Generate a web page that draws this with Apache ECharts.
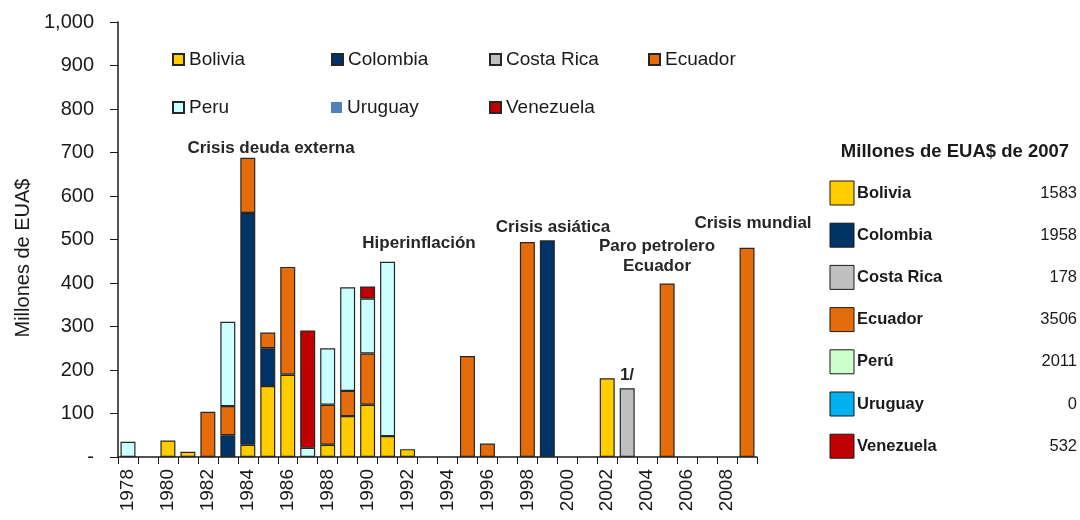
<!DOCTYPE html>
<html style="height: 100%">
<head>
<meta charset="utf-8">
<style type="text/css">
  body, html { width: 100%; height: 100%; margin: 0; overflow: hidden; background: #fff; }
  #display { width: 1080px; height: 520px; }
</style>
</head>
<body>
<div id="display"></div>
<script type="text/javascript" src="https://cdn.jsdelivr.net/npm/echarts@6/dist/echarts.min.js"></script>
<script type="text/javascript">
// years 1978 .. 2009
var years = ['1978','1979','1980','1981','1982','1983','1984','1985','1986','1987','1988','1989','1990','1991','1992','1993',
             '1994','1995','1996','1997','1998','1999','2000','2001','2002','2003','2004','2005','2006','2007','2008','2009'];

//                 78    79    80    81    82    83    84    85    86    87    88    89    90    91    92    93    94    95    96    97    98    99    00    01    02    03    04    05    06    07    08    09
var bolivia   = [null, null,   38,   12, null, null,   28,  163,  189, null,   28,   94,  120,   48,   18, null, null, null, null, null, null, null, null, null,  181, null, null, null, null, null, null, null];
var colombia  = [null, null, null, null, null,   50,  533,   87, null, null, null, null, null, null, null, null, null, null, null, null, null,  498, null, null, null, null, null, null, null, null, null, null];
var costaRica = [null, null, null, null, null, null, null, null, null, null, null, null, null, null, null, null, null, null, null, null, null, null, null, null, null,  158, null, null, null, null, null, null];
var ecuador   = [null, null, null, null,  104,   67,  127,   36,  248, null,   92,   58,  118, null, null, null, null,  232,   31, null,  494, null, null, null, null, null, null,  399, null, null, null,  481];
var peru      = [  35, null, null, null, null,  194, null, null, null,   21,  130,  238,  126,  401, null, null, null, null, null, null, null, null, null, null, null, null, null, null, null, null, null, null];
var uruguay   = [null, null, null, null, null, null, null, null, null, null, null, null, null, null, null, null, null, null, null, null, null, null, null, null, null, null, null, null, null, null, null, null];
var venezuela = [null, null, null, null, null, null, null, null, null,  270, null, null,   28, null, null, null, null, null, null, null, null, null, null, null, null, null, null, null, null, null, null, null];

var seriesNames  = ['Bolivia', 'Colombia', 'Costa Rica', 'Ecuador', 'Peru', 'Uruguay', 'Venezuela'];
var seriesColors = ['#FFCC00', '#003366', '#C0C0C0', '#E46C0A', '#CCFFFF', '#4F81BD', '#C00000'];
var seriesData   = [bolivia, colombia, costaRica, ecuador, peru, uruguay, venezuela];

// side table, millones de EUA$ de 2007
var tableNames  = ['Bolivia', 'Colombia', 'Costa Rica', 'Ecuador', 'Perú', 'Uruguay', 'Venezuela'];
var tableValues = ['1583', '1958', '178', '3506', '2011', '0', '532'];
var tableColors = ['#FFCC00', '#003366', '#C0C0C0', '#E46C0A', '#CCFFCC', '#00B0F0', '#C00000'];

var yTicks = [0, 100, 200, 300, 400, 500, 600, 700, 800, 900, 1000];

var font = 'Liberation Sans, Arial, sans-serif';
var chart = echarts.init(document.getElementById('display'));

var series = [];
for (var i = 0; i < seriesNames.length; i++) {
    series.push({
        name: seriesNames[i],
        type: 'bar',
        stack: 'total',
        barCategoryGap: '25%',
        itemStyle: {
            color: seriesColors[i],
            borderColor: '#262626',
            borderWidth: 1.2
        },
        emphasis: { disabled: true },
        data: seriesData[i]
    });
}

// legend: one block per name so the columns line up like the original
var legendSpots = [[172, 50], [331, 50], [489, 50], [648, 50], [172, 98], [331, 98], [489, 98]];
var legends = [];
for (var l = 0; l < seriesNames.length; l++) {
    var item = { name: seriesNames[l] };
    if (seriesNames[l] === 'Uruguay') item.itemStyle = { borderWidth: 0 };
    legends.push({
        left: legendSpots[l][0],
        top: legendSpots[l][1],
        padding: 0,
        icon: 'rect',
        itemWidth: 11,
        itemHeight: 11,
        selectedMode: false,
        textStyle: { fontFamily: font, fontSize: 19, color: '#1a1a1a' },
        data: [item]
    });
}

var graphics = [];
// y axis title
graphics.push({ type: 'text', x: 23, y: 258, rotation: Math.PI / 2,
    style: { text: 'Millones de EUA$', font: '20px ' + font, fill: '#1a1a1a', align: 'center', verticalAlign: 'middle' } });
// annotations
var notes = [
    ['Crisis deuda externa', 271, 148],
    ['Hiperinflación', 419, 243],
    ['Crisis asiática', 553, 227],
    ['Paro petrolero', 657, 246],
    ['Ecuador', 657, 266],
    ['Crisis mundial', 753, 223],
    ['1/', 627, 375]
];
for (var n = 0; n < notes.length; n++) {
    graphics.push({ type: 'text', x: notes[n][1], y: notes[n][2],
        style: { text: notes[n][0], font: 'bold 17px ' + font, fill: '#262626', align: 'center', verticalAlign: 'middle' } });
}
// side table
graphics.push({ type: 'text', x: 955, y: 152,
    style: { text: 'Millones de EUA$ de 2007', font: 'bold 18.5px ' + font, fill: '#1a1a1a', align: 'center', verticalAlign: 'middle' } });
for (var k = 0; k < tableNames.length; k++) {
    var ty = 193 + k * 42.2;
    graphics.push({ type: 'rect', shape: { x: 830, y: ty - 12, width: 24, height: 24 },
        style: { fill: tableColors[k], stroke: '#1a1a1a', lineWidth: 1 } });
    graphics.push({ type: 'text', x: 857, y: ty,
        style: { text: tableNames[k], font: 'bold 16.5px ' + font, fill: '#1a1a1a', align: 'left', verticalAlign: 'middle' } });
    graphics.push({ type: 'text', x: 1077, y: ty,
        style: { text: tableValues[k], font: '16.5px ' + font, fill: '#1a1a1a', align: 'right', verticalAlign: 'middle' } });
}

var option = {
    backgroundColor: '#ffffff',
    animation: false,
    legend: legends,
    grid: { left: 118, right: 323, top: 22, bottom: 63 },
    xAxis: {
        type: 'category',
        data: years,
        axisLine: { lineStyle: { color: '#1a1a1a', width: 1.5 } },
        axisTick: { show: true, interval: 0, length: 7, lineStyle: { color: '#1a1a1a' } },
        axisLabel: { interval: 1, rotate: 90, margin: 12, fontFamily: font, fontSize: 19, color: '#1a1a1a' }
    },
    yAxis: {
        type: 'value',
        min: yTicks[0],
        max: yTicks[yTicks.length - 1],
        interval: 100,
        splitLine: { show: false },
        axisLine: { show: true, lineStyle: { color: '#1a1a1a', width: 1.5 } },
        axisTick: { show: true, length: 8, lineStyle: { color: '#1a1a1a' } },
        axisLabel: {
            margin: 24, fontFamily: font, fontSize: 20, color: '#1a1a1a',
            formatter: function (v) { return v === 0 ? '-' : v.toLocaleString('en-US'); }
        }
    },
    graphic: graphics,
    series: series
};
chart.setOption(option);
</script>
</body>
</html>
